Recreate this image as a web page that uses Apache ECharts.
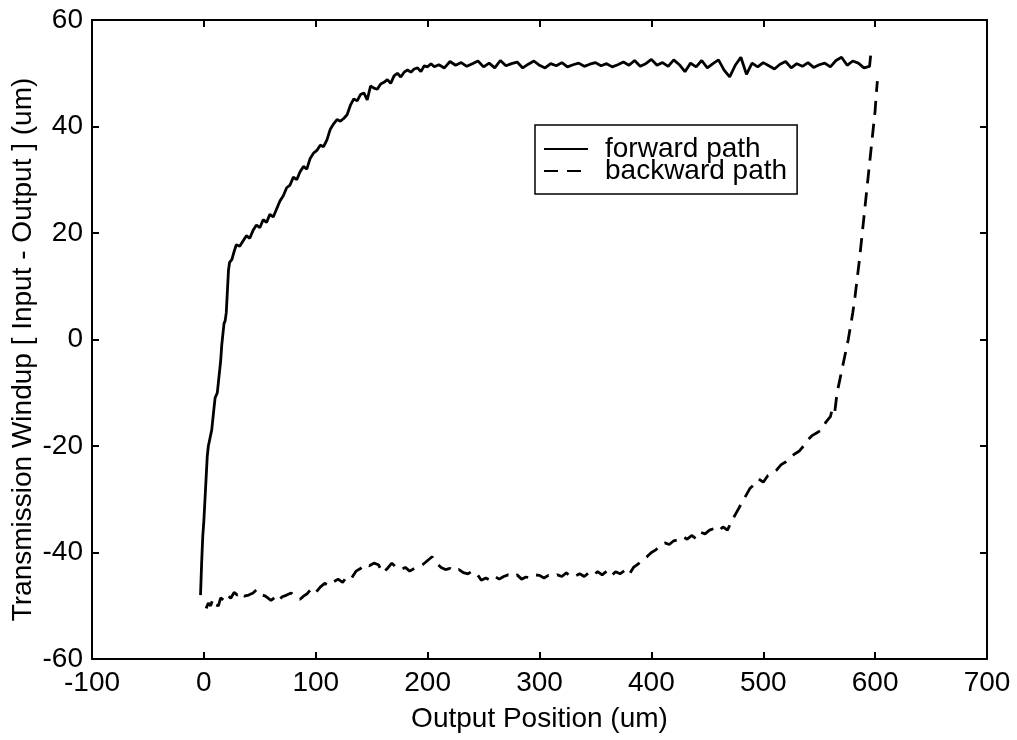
<!DOCTYPE html>
<html>
<head>
<meta charset="utf-8">
<script src="https://cdn.jsdelivr.net/npm/echarts@6/dist/echarts.min.js"></script>
<style>
html,body{margin:0;padding:0;background:#fff;}
#chart{width:1017px;height:740px;}
</style>
</head>
<body>
<div id="chart"></div>
<script>
// ---- data ----
const xTicks = [-100, 0, 100, 200, 300, 400, 500, 600, 700];
const yTicks = [-60, -40, -20, 0, 20, 40, 60];

const forwardX = [-3,-2,-1,0,1,2,3,4,5,7,9,10,12,13,15,16,17,18,19,20,21,22,23,25,27,29,32,35,38,41,44,47,50,53,56,59,62,65,68,71,74,77,80,83,86,89,92,95,98,101,104,107,110,113,116,119,122,125,128,131,134,137,140,143,146,149,152,155,158,161,164,167,170,173,176,179,182,185,188,191,194,197,200,203,206,
210,215,220,225,230,235,240,245,250,255,260,265,270,275,280,285,290,295,300,305,310,315,320,325,330,335,340,345,350,355,360,365,370,375,380,385,390,395,400,405,410,415,420,425,430,435,440,445,450,455,460,465,470,475,480,485,490,495,500,505,510,515,520,525,530,535,540,545,550,555,560,565,570,575,580,585,590,595,596];
const forwardY = [-48,-42,-37,-34,-30,-26,-22,-20,-19,-17,-13,-11,-10,-8,-4,-1,1,3,3.5,5,9,13,14.5,15,16.5,17.8,17.5,18.5,19.5,19,20.5,21.5,21,22.5,22,23.5,23,24.5,26,27,28.5,29,30.5,30,31.5,32.5,32,34,35,35.5,36.5,36.2,37.5,39.5,40.5,41.3,41,41.5,42.2,44,45.2,44.8,46,46.3,45,47.6,47.2,47,48,48.3,48.8,48.1,49.5,50,49.3,50.2,50.6,50.2,50.8,51,50.3,51.4,51.2,51.8,51.2,
51.6,51.0,52.2,51.5,52.0,51.3,51.8,52.3,51.2,51.9,51.0,52.4,51.4,51.8,52.1,51.0,51.7,52.3,51.5,51.0,51.8,51.4,52.0,51.2,51.6,51.9,51.3,51.7,52.0,51.4,51.8,51.2,51.6,52.1,51.5,52.4,51.3,51.8,52.6,51.5,52.0,51.3,52.5,51.6,50.3,51.9,51.2,52.4,51.0,51.8,52.5,50.6,49.3,51.5,53.0,49.8,51.9,51.2,52.0,51.4,50.8,51.7,52.2,51.0,51.8,51.3,52.0,51.1,51.6,51.9,51.2,52.4,53.0,51.5,52.3,51.9,51.0,51.3,53.3];

const backwardX = [2,4,6,8,10,13,15,18,21,24,27,30,33,36,40,44,47,50,55,60,63,66,70,74,78,82,86,89,92,96,100,104,108,112,116,120,124,128,132,136,140,144,148,152,156,160,164,168,172,176,180,184,188,192,196,200,204,208,212,216,220,224,228,232,236,240,244,248,252,256,260,264,268,272,276,280,284,288,292,296,300,304,308,312,316,320,324,328,332,336,340,344,348,352,356,360,364,368,372,376,380,384,388,392,396,400,404,408,412,416,420,424,428,432,436,440,444,448,452,456,460,464,468,472,476,480,484,488,492,496,500,504,508,512,516,520,524,528,532,536,540,544,548,552,556,560,562,564,566,568,570,572,574,576,578,580,582,584,586,588,590,592,594,596,598,600,601,602];
const backwardY = [-50.5,-49.5,-50,-48.8,-49.8,-50,-48.5,-49,-48,-48.6,-47.5,-48,-47.5,-48.2,-48,-47.6,-47,-47.8,-48.2,-49,-48.5,-49.2,-48.3,-48,-47.6,-48.4,-48.8,-48.2,-47.8,-46.8,-47.5,-46.5,-45.8,-46.2,-45.5,-45,-45.6,-44.5,-44.8,-43.5,-43,-42.2,-42.5,-42,-42.3,-43.8,-43,-42,-42.8,-43.2,-42.8,-43.5,-43,-42.6,-42.2,-41.5,-40.8,-42,-42.8,-43.2,-43,-43.6,-43.2,-43.8,-44,-43.5,-44,-45.2,-44.8,-45.2,-44.5,-45,-44.5,-44.2,-44.6,-44.2,-45,-44.6,-44.8,-44.2,-44.3,-44.8,-44.3,-44.6,-44.2,-44.5,-43.8,-44.6,-44.4,-44,-44.5,-43.8,-44.3,-43.6,-44.2,-43.5,-44.4,-43.6,-44,-43.4,-44.2,-42.8,-42.2,-41.4,-40.8,-40,-39.5,-38.6,-38.2,-38.5,-37.8,-37.6,-37,-37.5,-36.8,-37.4,-36.2,-36.5,-35.8,-35.5,-36,-35.2,-35.8,-34,-32.5,-31,-29.5,-28,-27.2,-26.2,-26.8,-25.6,-25.2,-24.5,-23.5,-23,-22.2,-21.5,-21,-20,-18.8,-18,-17.5,-17,-15.5,-14.5,-12.8,-13.5,-10,-8,-6,-4,-2,0,2.5,5,8,11.5,15,19,23,27,31,35,39,43,46,48.5];

const seriesNames = ['forward path', 'backward path'];
const xTitle = 'Output Position (um)';
const yTitle = 'Transmission Windup [ Input - Output ] (um)';

function pairs(xs, ys) { return xs.map((x, i) => [x, ys[i]]); }

const FONT = '"Liberation Sans", Arial, sans-serif';
const chart = echarts.init(document.getElementById('chart'), null, {renderer: 'canvas'});

function xAxisBase(pos, showLabels) {
  return {
    type: 'value', position: pos, min: xTicks[0], max: xTicks[xTicks.length - 1], interval: 100,
    axisLine: {show: true, onZero: false, lineStyle: {color: '#000', width: 2}},
    axisTick: {show: true, inside: true, length: 7, lineStyle: {color: '#000', width: 2}},
    axisLabel: {show: showLabels, color: '#000', fontSize: 28, fontFamily: FONT, margin: 10},
    splitLine: {show: false}
  };
}
function yAxisBase(pos, showLabels) {
  return {
    type: 'value', position: pos, min: yTicks[0], max: yTicks[yTicks.length - 1], interval: 20,
    axisLine: {show: true, onZero: false, lineStyle: {color: '#000', width: 2}},
    axisTick: {show: true, inside: true, length: 7, lineStyle: {color: '#000', width: 2}},
    axisLabel: {show: showLabels, color: '#000', fontSize: 28, fontFamily: FONT, margin: 9},
    splitLine: {show: false}
  };
}

const xb = xAxisBase('bottom', true);
xb.name = xTitle; xb.nameLocation = 'middle'; xb.nameGap = 46; xb.nameMoveOverlap = false;
xb.nameTextStyle = {color: '#000', fontSize: 28, fontFamily: FONT};
const yl = yAxisBase('left', true);
yl.name = yTitle; yl.nameLocation = 'middle'; yl.nameGap = 55; yl.nameRotate = 90; yl.nameMoveOverlap = false;
yl.nameTextStyle = {color: '#000', fontSize: 28, fontFamily: FONT, padding: [0, 20, 0, 0]};

chart.setOption({
  backgroundColor: '#fff',
  animation: false,
  grid: {left: 92, right: 30, top: 20, bottom: 81, containLabel: false, outerBoundsMode: 'none'},
  xAxis: [xb, xAxisBase('top', false)],
  yAxis: [yl, yAxisBase('right', false)],
  legend: {
    show: true, orient: 'vertical', left: 535, top: 125,
    backgroundColor: '#fff', borderColor: '#000', borderWidth: 1.5, borderRadius: 0,
    padding: [10, 10, 9, 8], itemGap: -6, itemWidth: 44, itemHeight: 20,
    itemStyle: {opacity: 0},
    textStyle: {color: '#000', fontSize: 28, fontFamily: FONT, lineHeight: 20, padding: [0, 0, 0, 12]},
    data: seriesNames
  },
  series: [
    {
      name: seriesNames[0], type: 'line', xAxisIndex: 0, yAxisIndex: 0,
      data: pairs(forwardX, forwardY), showSymbol: false, symbol: 'none',
      lineStyle: {color: '#000', width: 2.8, type: 'solid'}, itemStyle: {color: '#000'}
    },
    {
      name: seriesNames[1], type: 'line', xAxisIndex: 0, yAxisIndex: 0,
      data: pairs(backwardX, backwardY), showSymbol: false, symbol: 'none',
      lineStyle: {color: '#000', width: 2.8, type: [14, 9]}, itemStyle: {color: '#000'}
    }
  ]
});
</script>
</body>
</html>
